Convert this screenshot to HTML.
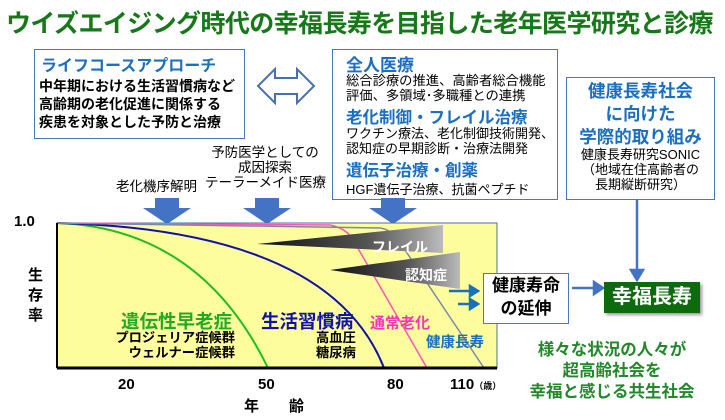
<!DOCTYPE html>
<html><head><meta charset="utf-8"><style>
*{margin:0;padding:0;box-sizing:border-box}
body{width:725px;height:420px;background:#fff;position:relative;overflow:hidden;font-family:"Liberation Sans","Noto Sans CJK JP",sans-serif;font-weight:bold}
.a{position:absolute;white-space:nowrap}
.box{position:absolute;border:1.5px solid #4a76c0;background:#fff}
.bl{color:#1b6fc0}
</style></head><body>
<div class="a" style="left:6px;top:4px;font-size:25px;color:#17781a;letter-spacing:-0.6px">ウイズエイジング時代の幸福長寿を目指した老年医学研究と診療</div>

<div class="box" style="left:34px;top:49px;width:211px;height:90px"></div>
<div class="a bl" style="left:41px;top:52px;font-size:16px">ライフコースアプローチ</div>
<div class="a" style="left:39px;top:77px;font-size:14px;line-height:18px">中年期における生活習慣病など<br>高齢期の老化促進に関係する<br>疾患を対象とした予防と治療</div>

<svg class="a" style="left:255px;top:64px" width="62" height="44"><polygon points="3,22 20,5 20,14 42,14 42,5 59,22 42,39 42,30 20,30 20,39" fill="#fff" stroke="#4a6fb0" stroke-width="2"/></svg>

<div class="box" style="left:332px;top:49px;width:226px;height:151px"></div>
<div class="a bl" style="left:346px;top:51px;font-size:17px">全人医療</div>
<div class="a" style="left:346px;top:73px;font-size:13.3px;font-weight:normal;line-height:15px">総合診療の推進、高齢者総合機能<br>評価、多領域･多職種との連携</div>
<div class="a bl" style="left:346px;top:104px;font-size:16.5px">老化制御・フレイル治療</div>
<div class="a" style="left:346px;top:126px;font-size:13px;font-weight:normal;line-height:15px">ワクチン療法、老化制御技術開発、<br>認知症の早期診断・治療法開発</div>
<div class="a bl" style="left:346px;top:157px;font-size:16.5px">遺伝子治療・創薬</div>
<div class="a" style="left:346px;top:179px;font-size:13px;font-weight:normal">HGF遺伝子治療、抗菌ペプチド</div>

<div class="box" style="left:566px;top:77px;width:149px;height:123px"></div>
<div class="a bl" style="left:566px;width:149px;text-align:center;top:80px;font-size:17.5px;line-height:23px">健康長寿社会<br>に向けた<br>学際的取り組み</div>
<div class="a" style="left:566px;width:149px;text-align:center;top:147px;font-size:13px;font-weight:normal;line-height:15px">健康長寿研究SONIC<br>（地域在住高齢者の<br>長期縦断研究）</div>

<div class="a" style="left:116px;top:175px;font-size:13.5px;font-weight:normal">老化機序解明</div>
<div class="a" style="left:205px;top:145px;font-size:13.5px;font-weight:normal;text-align:center;line-height:15px;width:120px">予防医学としての<br>成因探索<br>テーラーメイド医療</div>

<svg class="a" style="left:0;top:190px" width="725" height="230">
<defs>
<linearGradient id="g" x1="0" x2="1"><stop offset="0" stop-color="#111"/><stop offset="0.6" stop-color="#555"/><stop offset="1" stop-color="#bbb"/></linearGradient>
</defs>
<g fill="#4472c4">
<polygon points="155,8 179,8 179,18 191,18 167,34 143,18 155,18"/>
<polygon points="255,8 279,8 279,18 291,18 267,34 243,18 255,18"/>
<polygon points="381,8 405,8 405,18 417,18 393,34 369,18 381,18"/>
</g>
<rect x="57" y="33" width="440" height="145" fill="#fdfd9e" stroke="#4a6fa0" stroke-width="1"/>
<path d="M57,33 Q200,38 268,178" fill="none" stroke="#22bb22" stroke-width="2"/>
<path d="M57,33 Q330,40 384,178" fill="none" stroke="#1010aa" stroke-width="2"/>
<path d="M57,33 L330,35 Q345,38 352,48 L427,178" fill="none" stroke="#ff55bb" stroke-width="1.5"/>
<path d="M57,33 L380,38 Q395,40 405,60 L484,178" fill="none" stroke="#7a8aa8" stroke-width="1.5"/>
<polygon points="257,54 443,35 443,63" fill="url(#g)"/>
<polygon points="330,80 460,62 460,99" fill="url(#g)"/>
<text x="372" y="62" font-size="14" fill="#fff" font-weight="bold">フレイル</text>
<text x="405" y="90" font-size="14" fill="#fff" font-weight="bold">認知症</text>
<line x1="57" y1="178" x2="497" y2="178" stroke="#000" stroke-width="3"/>
<line x1="57" y1="33" x2="57" y2="178" stroke="#000" stroke-width="2"/>
<g stroke="#1b6fc0" stroke-width="2.5" fill="#1b6fc0">
<line x1="449" y1="101" x2="470" y2="101"/><polygon points="470,96 478,101 470,106"/>
<line x1="458" y1="114" x2="470" y2="114"/><polygon points="470,109 478,114 470,119"/>
</g>
<g stroke="#4472c4" stroke-width="2.5" fill="#4472c4">
<line x1="637" y1="10" x2="637" y2="82"/><polygon points="631,80 637,90 643,80"/>
<line x1="572" y1="98" x2="595" y2="98"/><polygon points="594,92 603,98 594,104"/>
</g>
</svg>

<div class="a" style="left:14px;top:213px;font-size:15px">1.0</div>
<div class="a" style="left:28px;top:266px;font-size:15px;line-height:20px">生<br>存<br>率</div>
<div class="a" style="left:121px;top:308px;font-size:18.5px;color:#22aa22">遺伝性早老症</div>
<div class="a" style="left:100px;top:330px;font-size:13.3px;line-height:15px;text-align:right;width:135px">プロジェリア症候群<br>ウェルナー症候群</div>
<div class="a" style="left:261px;top:308px;font-size:18.5px;color:#1010aa">生活習慣病</div>
<div class="a" style="left:316px;top:330px;font-size:13.3px;line-height:15px">高血圧<br>糖尿病</div>
<div class="a" style="left:370px;top:312px;font-size:15px;color:#ff33bb">通常老化</div>
<div class="a bl" style="left:426px;top:331px;font-size:14.5px">健康長寿</div>
<div class="a" style="left:118px;top:376px;font-size:15px">20</div>
<div class="a" style="left:258px;top:376px;font-size:15px">50</div>
<div class="a" style="left:387px;top:376px;font-size:15px">80</div>
<div class="a" style="left:450px;top:376px;font-size:15px">110<span style="font-size:9px">（歳）</span></div>
<div class="a" style="left:244px;top:395px;font-size:15px">年　　齢</div>

<div class="box" style="left:483px;top:273px;width:86px;height:51px"></div>
<div class="a" style="left:483px;width:86px;text-align:center;top:274px;font-size:17px;line-height:23px">健康寿命<br>の延伸</div>
<div class="a" style="left:604px;top:282px;width:96px;height:31px;background:#0d6b0d;color:#fff;font-size:20px;text-align:center;line-height:31px;box-shadow:2px 2px 3px #999">幸福長寿</div>
<div class="a" style="left:512px;width:200px;text-align:center;top:340px;font-size:16.5px;line-height:21px;color:#22882a">様々な状況の人々が<br>超高齢社会を<br>幸福と感じる共生社会</div>
</body></html>
